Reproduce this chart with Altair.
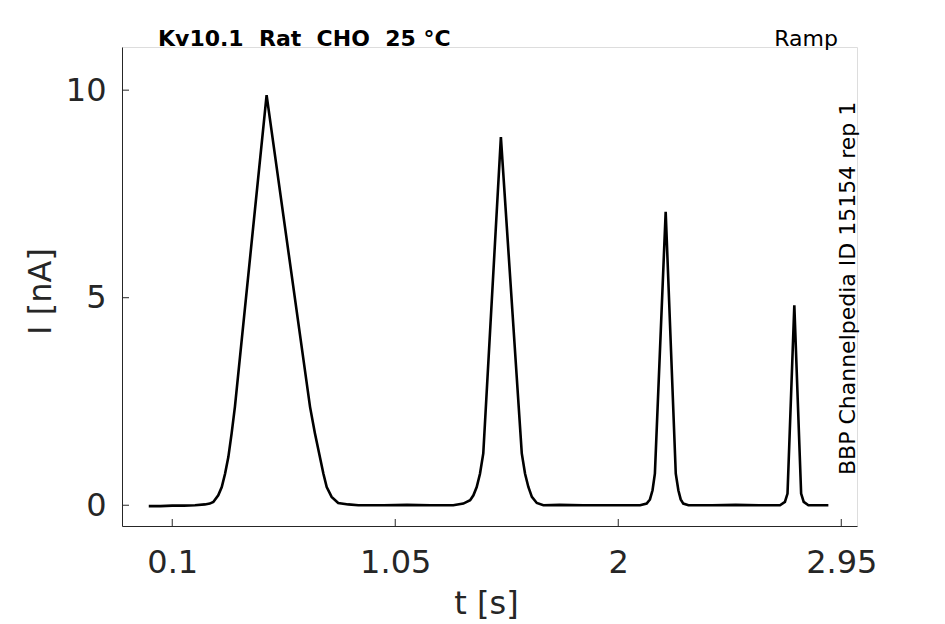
import altair as alt
import pandas as pd

# Trace (time in s, current in nA)
t_vals = [0.000, 0.050, 0.100, 0.150, 0.197, 0.239, 0.260, 0.275, 0.296, 0.311, 0.325, 0.339, 0.353, 0.367,
          0.502, 0.687, 0.708, 0.729, 0.744, 0.758, 0.779, 0.807, 0.850, 0.893,
          1.000, 1.100, 1.200, 1.240, 1.297, 1.340, 1.369, 1.383, 1.397, 1.411, 1.425, 1.500,
          1.589, 1.603, 1.617, 1.632, 1.653, 1.681, 1.750, 1.850, 1.950, 2.050, 2.093, 2.121, 2.135, 2.146,
          2.156, 2.202, 2.245, 2.256, 2.266, 2.277, 2.299, 2.400, 2.500, 2.600, 2.689, 2.710, 2.721,
          2.750, 2.779, 2.790, 2.810, 2.850, 2.895]
i_vals = [-0.02, -0.02, -0.01, -0.01, 0.00, 0.02, 0.04, 0.08, 0.24, 0.44, 0.76, 1.16, 1.73, 2.37,
          9.88, 2.37, 1.73, 1.16, 0.76, 0.44, 0.20, 0.055, 0.02, 0.00,
          0.00, 0.01, 0.00, 0.00, 0.00, 0.04, 0.12, 0.24, 0.44, 0.76, 1.25, 8.87,
          1.25, 0.76, 0.44, 0.20, 0.055, 0.00, 0.01, 0.00, 0.00, 0.00, 0.00, 0.04, 0.14, 0.36,
          0.76, 7.07, 0.76, 0.36, 0.14, 0.04, 0.00, 0.00, 0.01, 0.00, 0.00, 0.08, 0.28,
          4.82, 0.28, 0.08, 0.00, 0.00, 0.00]

x_ticks = [0.1, 1.05, 2, 2.95]
y_ticks = [0, 5, 10]
title_text = ["Kv10.1 \u00a0Rat \u00a0CHO \u00a025 °C"]
ramp_text = ["Ramp"]
side_text = ["BBP Channelpedia ID 15154 rep 1"]

W, H = 735, 479
FONT = "DejaVu Sans"
GRAY = "#262626"

trace = pd.DataFrame({"t": t_vals, "I": i_vals})
xs = alt.Scale(domain=[-0.114, 3.017], nice=False, zero=False)
ys = alt.Scale(domain=[-0.5, 11.04], nice=False, zero=False)

line = alt.Chart(trace).mark_line(color="black", strokeWidth=2.6, clip=True).encode(
    x=alt.X("t:Q", scale=xs, axis=alt.Axis(
        values=x_ticks, labelExpr="format(datum.value, '.3~g')", title="t [s]", grid=False,
        ticks=False, tickSize=0,
        domainColor=GRAY, domainWidth=1, labelColor=GRAY, labelFont=FONT, labelFontSize=32,
        labelBaseline="alphabetic", labelPadding=46, labelFlush=False,
        titleFont=FONT, titleFontSize=32, titleFontWeight="normal", titleColor=GRAY,
        titleX=364, titleY=77, titleAlign="center", titleBaseline="middle")),
    y=alt.Y("I:Q", scale=ys, axis=alt.Axis(
        values=y_ticks, labelExpr="format(datum.value, '.3~g')", title="I [nA]", grid=False,
        ticks=False, tickSize=0,
        domainColor=GRAY, domainWidth=1, labelColor=GRAY, labelFont=FONT, labelFontSize=32,
        labelPadding=16, labelFlush=False,
        titleFont=FONT, titleFontSize=32, titleFontWeight="normal", titleColor=GRAY,
        titleAngle=270, titleX=-82, titleY=244, titleAlign="center", titleBaseline="middle")),
)

xt = alt.Chart(pd.DataFrame({"v": x_ticks})).mark_rule(color=GRAY, strokeWidth=1).encode(
    x=alt.X("v:Q", scale=xs), y=alt.value(H), y2=alt.value(H - 7))
yt = alt.Chart(pd.DataFrame({"v": y_ticks})).mark_rule(color=GRAY, strokeWidth=1).encode(
    y=alt.Y("v:Q", scale=ys), x=alt.value(0), x2=alt.value(7))

title = alt.Chart(pd.DataFrame({"s": title_text})).mark_text(
    font=FONT, fontSize=22, fontWeight="bold", color="black", align="left", baseline="alphabetic"
).encode(text="s:N", x=alt.value(36), y=alt.value(-1))
ramp = alt.Chart(pd.DataFrame({"s": ramp_text})).mark_text(
    font=FONT, fontSize=22, color="black", align="right", baseline="alphabetic"
).encode(text="s:N", x=alt.value(716), y=alt.value(-1))
side = alt.Chart(pd.DataFrame({"s": side_text})).mark_text(
    font=FONT, fontSize=22, color="black", align="left", baseline="alphabetic", angle=270
).encode(text="s:N", x=alt.value(733), y=alt.value(428))

chart = alt.layer(line, xt, yt, title, ramp, side).properties(
    width=W, height=H,
    autosize=alt.AutoSizeParams(type="none"),
    padding={"left": 114, "top": 39, "right": 80, "bottom": 97},
).configure_view(stroke=None).configure(background="white")

chart.save("out.html", embed_options={"renderer": "svg", "actions": False})
